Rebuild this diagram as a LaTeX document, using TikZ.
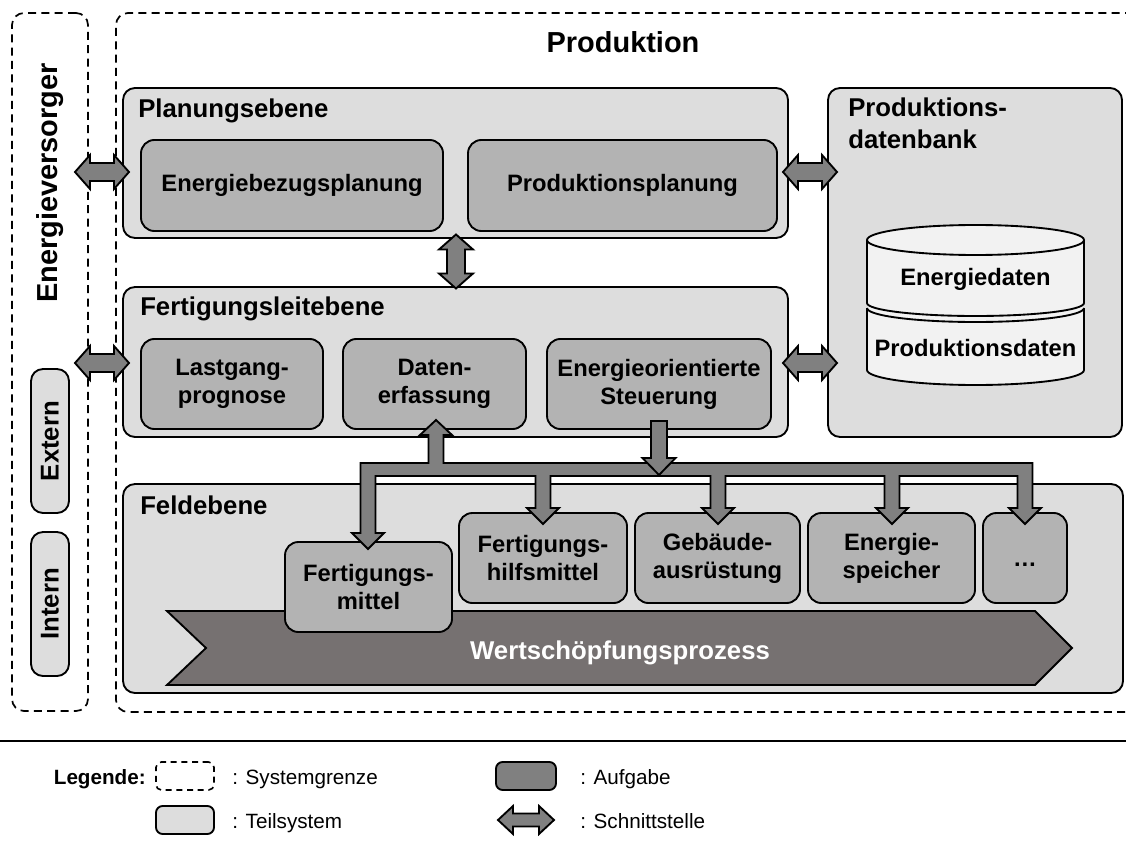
\documentclass[tikz,border=0pt]{standalone}
\usepackage{fontspec}
\setmainfont{Liberation Sans}
\usetikzlibrary{calc}
\definecolor{teil}{RGB}{221,221,221}
\definecolor{task}{RGB}{179,179,179}
\definecolor{arrowgray}{RGB}{128,128,128}
\definecolor{chev}{RGB}{118,113,113}
\definecolor{cyl}{RGB}{242,242,242}
\newcommand\taskfont{\fontsize{17.8}{21}\selectfont\bfseries}
\newcommand\headfont{\fontsize{19.3}{24}\selectfont\bfseries}
\newcommand\titlefont{\fontsize{21.7}{26}\selectfont\bfseries}
\newcommand\legfont{\fontsize{15.5}{18}\selectfont}
\newcommand\mkbox[7]{\node[#2,minimum width={(#5-#3)*0.75pt},minimum height={(#6-#4)*0.75pt}] (#1) at ({(#3+#5)/2},{(#4+#6)/2}) {#7};}
\begin{document}
\begin{tikzpicture}[x=0.75pt,y=-0.75pt,
  sysb/.style={draw,dash pattern=on 6pt off 4pt,line width=1.3pt,rounded corners=9pt,inner sep=0pt},
  teilbox/.style={draw,line width=1.4pt,fill=teil,rounded corners=9pt,inner sep=0pt},
  taskbox/.style={draw,line width=1.4pt,fill=task,rounded corners=10pt,inner sep=0pt,align=center,font=\taskfont},
  headtext/.style={anchor=base west,inner sep=0pt,font=\headfont},
  arrowst/.style={draw,line width=1.4pt,fill=arrowgray},
  hdbl/.pic={\draw[arrowst] (-27,0) -- (-12,-17) -- (-12,-9) -- (12,-9) -- (12,-17) -- (27,0) -- (12,17) -- (12,9) -- (-12,9) -- (-12,17) -- cycle;},
  legdbl/.pic={\draw[arrowst] (-28,0) -- (-13,-14) -- (-13,-6.5) -- (13,-6.5) -- (13,-14) -- (28,0) -- (13,14) -- (13,6.5) -- (-13,6.5) -- (-13,14) -- cycle;}
]
\useasboundingbox (0,0) rectangle (1126,841);
\fill[white] (0,0) rectangle (1126,841);
\clip (0,0) rectangle (1126,841);

% system boundaries
\mkbox{ev}{sysb}{12}{13}{88}{711}{}
\mkbox{prod}{sysb}{116}{13}{1145}{712}{}
\node[font=\titlefont,anchor=base,inner sep=0pt] (prodtitle) at (623,53) {Produktion};
\node[font=\titlefont,rotate=90,inner sep=0pt] (evtitle) at (50,183) {Energieversorger};
\mkbox{extern}{teilbox}{31}{369}{69}{513}{}
\mkbox{intern}{teilbox}{31}{532}{69}{676}{}
\node[font=\headfont,rotate=90,inner sep=0pt] (externt) at (extern.center) {Extern};
\node[font=\headfont,rotate=90,inner sep=0pt] (internt) at (intern.center) {Intern};

% Planungsebene
\mkbox{plan}{teilbox}{123}{88}{788}{238}{}
\node[headtext] (plant) at (138,118) {Planungsebene};
\mkbox{ebp}{taskbox}{141}{140}{443}{231}{Energiebezugsplanung}
\mkbox{pp}{taskbox}{468}{140}{777}{231}{Produktionsplanung}

% Fertigungsleitebene
\mkbox{fle}{teilbox}{123}{287}{788}{437}{}
\node[headtext] (flet) at (140,315) {Fertigungsleitebene};
\mkbox{lg}{taskbox}{141}{339}{323}{429}{Lastgang-\\prognose}
\mkbox{de}{taskbox}{343}{339}{526}{429}{Daten-\\erfassung}
\mkbox{es}{taskbox}{547}{339}{771}{429}{Energieorientierte\\Steuerung}

% Produktionsdatenbank
\mkbox{db}{teilbox}{828}{88}{1122}{437}{}
\node[headtext] (dbt1) at (848,117) {Produktions-};
\node[headtext] (dbt2) at (848,149) {datenbank};
% lower cylinder
\fill[cyl] (867,308) -- (867,370) arc[start angle=180,end angle=360,x radius=81.375pt,y radius=11.25pt] -- (1084,308) arc[start angle=0,end angle=180,x radius=81.375pt,y radius=10.5pt] -- cycle;
\draw[line width=1.4pt] (867,308) -- (867,370) arc[start angle=180,end angle=360,x radius=81.375pt,y radius=11.25pt] -- (1084,308);
\draw[line width=1.4pt] (867,308) arc[start angle=180,end angle=360,x radius=81.375pt,y radius=10.5pt];
% upper cylinder
\fill[cyl] (867,240) -- (867,303) arc[start angle=180,end angle=360,x radius=81.375pt,y radius=9.75pt] -- (1084,240) arc[start angle=0,end angle=180,x radius=81.375pt,y radius=11.25pt] -- cycle;
\draw[line width=1.4pt] (867,240) -- (867,303) arc[start angle=180,end angle=360,x radius=81.375pt,y radius=9.75pt] -- (1084,240);
\draw[line width=1.4pt] (975.5,240) ellipse[x radius=81.375pt,y radius=11.25pt];
\node[font=\taskfont,anchor=base,inner sep=0pt] (edt) at (975.5,286) {Energiedaten};
\node[font=\taskfont,anchor=base,inner sep=0pt] (pdt) at (975.5,356) {Produktionsdaten};

% interfaces
\pic at (102,172) {hdbl};
\pic at (102,363) {hdbl};
\pic at (810,172) {hdbl};
\pic at (810,363) {hdbl};
\pic[rotate=90] at (456,261.5) {hdbl};

% Feldebene
\mkbox{feld}{teilbox}{123}{484}{1123}{693}{}
\node[headtext] (feldt) at (140,514) {Feldebene};
\draw[line width=1.4pt,fill=chev] (167,611) -- (1035,611) -- (1072,648) -- (1035,685) -- (167,685) -- (206,648) -- cycle;
\node[font=\headfont,text=white,inner sep=0pt] (wsp) at (620,653) {Wertschöpfungsprozess};
\mkbox{fm}{taskbox}{285}{542}{452}{632}{Fertigungs-\\mittel}
\mkbox{fh}{taskbox}{459}{513}{627}{603}{Fertigungs-\\hilfsmittel}
\mkbox{ga}{taskbox}{635}{513}{800}{603}{Gebäude-\\ausrüstung}
\mkbox{esp}{taskbox}{808}{513}{975}{603}{Energie-\\speicher}
\mkbox{dots}{taskbox}{983}{513}{1067}{603}{}
\node[font=\taskfont,anchor=base,inner sep=0pt] (dotst) at (1025,566) {…};

% bus
\draw[arrowst] (360.5,463) -- (428.5,463) -- (428.5,435) -- (420,435) -- (436,420) -- (452,435) -- (443.5,435) -- (443.5,463)
 -- (1032.5,463) -- (1032.5,508) -- (1041,508) -- (1025,524) -- (1009,508) -- (1017.5,508) -- (1017.5,476)
 -- (899.5,476) -- (899.5,508) -- (908,508) -- (892,524) -- (876,508) -- (884.5,508) -- (884.5,476)
 -- (725.5,476) -- (725.5,508) -- (734,508) -- (718,524) -- (702,508) -- (710.5,508) -- (710.5,476)
 -- (550.5,476) -- (550.5,508) -- (559,508) -- (543,524) -- (527,508) -- (535.5,508) -- (535.5,476)
 -- (375.5,476) -- (375.5,533) -- (384,533) -- (368,549) -- (352,533) -- (360.5,533) -- cycle;
\draw[arrowst] (651,421) -- (667,421) -- (667,458) -- (675.5,458) -- (659,475) -- (642.5,458) -- (651,458) -- cycle;

% legend
\draw[line width=1.6pt] (0,741) -- (1126,741);
\node[font=\legfont\bfseries,anchor=base east,inner sep=0pt] (legt) at (146,784) {Legende:};
\mkbox{lsys}{sysb,rounded corners=4pt,line width=1.2pt,dash pattern=on 4.5pt off 3.5pt}{156}{762}{214}{790}{}
\node[font=\legfont,anchor=base west,inner sep=0pt] (lsyst) at (232,784) {: Systemgrenze};
\mkbox{lauf}{teilbox,fill=arrowgray,rounded corners=5pt}{496}{762}{556}{790}{}
\node[font=\legfont,anchor=base west,inner sep=0pt] (lauft) at (580,784) {: Aufgabe};
\mkbox{lteil}{teilbox,rounded corners=5pt}{156}{806}{214}{834}{}
\node[font=\legfont,anchor=base west,inner sep=0pt] (lteilt) at (232,828) {: Teilsystem};
\pic at (526,820) {legdbl};
\node[font=\legfont,anchor=base west,inner sep=0pt] (lsst) at (580,828) {: Schnittstelle};
\end{tikzpicture}
\end{document}
